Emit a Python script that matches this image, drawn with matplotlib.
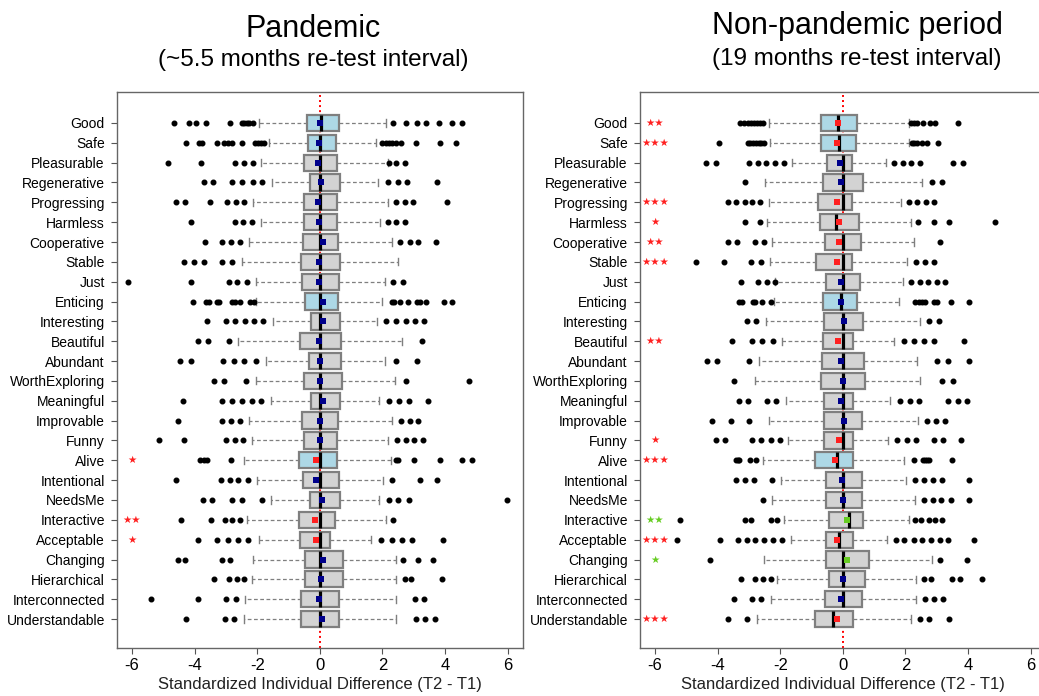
import numpy as np
import matplotlib
matplotlib.use("Agg")
import matplotlib.pyplot as plt

plt.rcParams['font.family'] = ['Liberation Sans', 'DejaVu Sans']

labels = ["Good", "Safe", "Pleasurable", "Regenerative", "Progressing", "Harmless",
          "Cooperative", "Stable", "Just", "Enticing", "Interesting", "Beautiful",
          "Abundant", "WorthExploring", "Meaningful", "Improvable", "Funny", "Alive",
          "Intentional", "NeedsMe", "Interactive", "Acceptable", "Changing",
          "Hierarchical", "Interconnected", "Understandable"]

# boxes filled light blue
highlight = ["Good", "Safe", "Enticing", "Alive"]

# ---- Pandemic (~5.5 months) ----
pan_q1 = [-0.41, -0.39, -0.52, -0.30, -0.52, -0.52, -0.55, -0.61, -0.57, -0.48, -0.28, -0.64, -0.34,
          -0.50, -0.29, -0.57, -0.52, -0.68, -0.55, -0.30, -0.68, -0.64, -0.47, -0.47, -0.59, -0.61]
pan_med = [0.03, 0, 0, 0, 0, 0, 0, 0, 0, 0, 0, 0, 0,
           0, 0, 0, 0, 0, 0, 0, 0, 0, 0, 0, 0, 0]
pan_q3 = [0.60, 0.51, 0.56, 0.64, 0.56, 0.56, 0.57, 0.64, 0.60, 0.57, 0.63, 0.67, 0.69,
          0.70, 0.63, 0.59, 0.56, 0.54, 0.60, 0.64, 0.48, 0.34, 0.74, 0.74, 0.62, 0.62]
pan_wlo = [-1.94, -1.62, -1.88, -1.54, -2.15, -1.88, -2.26, -2.47, -2.03, -2.03, -1.50, -2.60, -1.71,
           -2.03, -1.56, -2.27, -2.17, -2.43, -2.00, -1.56, -2.32, -1.95, -2.15, -2.18, -2.39, -2.43]
pan_whi = [2.11, 1.81, 2.19, 1.87, 2.19, 1.93, 2.30, 2.50, 2.09, 2.00, 1.82, 2.62, 2.09,
           2.40, 1.90, 2.30, 2.19, 2.27, 2.02, 1.89, 2.11, 1.64, 2.43, 2.44, 2.43, 2.45]
pan_mean = [0.01, -0.02, -0.05, 0.04, -0.05, -0.04, 0.10, -0.03, -0.04, 0.09, 0.09, -0.01, 0.0,
            0.02, 0.10, 0.0, 0.0, -0.11, -0.11, 0.06, -0.16, -0.12, 0.09, 0.05, -0.02, 0.06]
pan_out = [
    [-4.67, -4.19, -3.94, -3.64, -2.86, -2.49, -2.41, -2.34, -2.26, -2.15, 2.35, 2.77, 3.12, 3.38, 3.81, 4.23, 4.53],
    [-4.26, -3.87, -3.77, -3.30, -3.05, -2.93, -2.79, -2.47, -2.07, -1.99, -1.88, -1.78, 2.0, 2.11, 2.21, 2.32, 2.43, 2.59, 3.06, 3.83, 4.36],
    [-4.86, -3.79, -2.70, -2.41, -2.15, 2.21, 2.45, 2.71],
    [-3.71, -3.40, -2.79, -2.47, -2.15, -1.85, 2.19, 2.50, 2.80, 3.74],
    [-4.60, -4.32, -3.51, -2.98, -2.68, -2.41, 2.45, 2.71, 2.99, 4.07],
    [-4.11, -2.72, -2.45, -2.17, 2.19, 2.45, 2.72],
    [-3.68, -3.11, -2.83, -2.54, 2.57, 2.87, 3.15, 3.72],
    [-4.33, -4.03, -3.71, -3.11, -2.79],
    [-6.14, -4.10, -2.91, -2.63, -2.34, 2.35, 2.66],
    [-4.04, -3.64, -3.53, -3.30, -3.23, -2.79, -2.70, -2.55, -2.23, -2.10, 2.30, 2.37, 2.55, 2.83, 3.12, 3.19, 3.40, 3.96, 4.23],
    [-3.61, -3.01, -2.70, -2.40, -2.10, -1.80, 2.12, 2.45, 2.74, 3.03, 3.33],
    [-3.89, -3.56, -2.91, 3.27],
    [-4.47, -4.13, -3.10, -2.73, -2.41, -2.05, 2.43, 3.12],
    [-3.37, -3.05, -2.36, 2.74, 4.76],
    [-4.38, -3.14, -2.81, -2.49, -2.17, -1.87, 2.21, 2.53, 2.85, 3.47],
    [-4.54, -3.12, -2.83, -2.54, 2.59, 2.87, 3.15],
    [-5.15, -4.33, -2.99, -2.70, -2.44, 2.47, 2.77, 3.02, 3.30],
    [-3.83, -3.71, -3.61, -2.84, 2.45, 2.51, 3.00, 3.83, 4.53, 4.87],
    [-4.60, -3.16, -2.87, -2.60, -2.30, 2.31, 3.19, 3.76],
    [-3.74, -3.45, -2.81, -2.50, -1.86, 2.21, 2.51, 2.84, 5.99],
    [-4.44, -3.48, -3.02, -2.79, -2.54, 2.35],
    [-3.90, -3.27, -2.94, -2.62, -2.28, 1.97, 2.31, 2.64, 2.96, 3.95],
    [-4.54, -4.30, -3.11, -2.87, 2.66, 3.13, 3.61],
    [-3.37, -2.89, -2.65, -2.41, 2.71, 2.93, 3.89],
    [-5.39, -3.88, -2.99, -2.68, 3.03, 3.33],
    [-4.26, -3.03, -2.73, 3.06, 3.36, 3.68],
]
pan_sig = {"Alive": "*", "Interactive": "**", "Acceptable": "*"}

# ---- Non-pandemic period (19 months) ----
non_q1 = [-0.70, -0.70, -0.52, -0.62, -0.78, -0.72, -0.56, -0.87, -0.53, -0.64, -0.59, -0.64, -0.66,
          -0.70, -0.60, -0.59, -0.59, -0.88, -0.55, -0.55, -0.43, -0.55, -0.55, -0.45, -0.57, -0.90]
non_med = [-0.14, -0.11, 0.01, 0, 0, -0.23, 0, 0, 0, -0.06, 0, 0, 0,
           0, 0, 0, 0, -0.19, 0, 0, 0.21, -0.13, 0, 0, 0, -0.30]
non_q3 = [0.45, 0.43, 0.29, 0.66, 0.29, 0.51, 0.57, 0.30, 0.55, 0.45, 0.63, 0.34, 0.69,
          0.71, 0.32, 0.61, 0.31, 0.34, 0.60, 0.60, 0.66, 0.31, 0.85, 0.72, 0.60, 0.32]
non_wlo = [-2.37, -2.32, -1.62, -2.50, -2.37, -2.43, -2.26, -2.34, -2.16, -2.21, -2.45, -1.93, -2.67,
           -2.80, -1.82, -2.37, -1.74, -2.55, -1.98, -2.27, -1.88, -1.65, -2.53, -2.10, -2.31, -2.73]
non_whi = [2.13, 2.10, 1.38, 2.53, 1.86, 2.18, 2.26, 2.04, 1.91, 1.81, 2.48, 1.64, 2.36,
           2.47, 1.52, 2.41, 1.46, 1.94, 2.02, 2.31, 2.13, 1.40, 2.85, 2.34, 2.34, 2.17]
non_mean = [-0.15, -0.17, -0.09, -0.05, -0.20, -0.13, -0.13, -0.19, -0.06, -0.07, 0.04, -0.16, -0.05,
            0.01, -0.05, 0.04, -0.13, -0.24, -0.01, 0.02, 0.13, -0.19, 0.14, 0.02, -0.05, -0.19]
non_out = [
    [-3.30, -3.17, -3.04, -2.94, -2.83, -2.74, -2.64, -2.55, 2.17, 2.26, 2.36, 2.55, 2.79, 2.95, 3.69],
    [-3.94, -3.04, -2.96, -2.87, -2.78, -2.69, -2.61, -2.51, 2.20, 2.28, 2.38, 2.52, 2.70, 3.05],
    [-4.36, -4.06, -2.99, -2.71, -2.45, -2.17, -1.89, 1.65, 1.91, 2.19, 2.47, 3.53, 3.83],
    [-3.14, 2.84, 3.16],
    [-3.68, -3.40, -3.14, -2.89, -2.64, 2.13, 2.38, 2.65, 2.91],
    [-3.14, -2.64, 2.41, 2.91, 3.40, 4.85],
    [-3.67, -3.38, -2.80, -2.53, 3.11],
    [-4.68, -3.81, -2.93, -2.62, 2.34, 2.64, 2.93],
    [-3.26, -2.70, -2.43, -2.18, 2.18, 2.47, 2.73, 3.00, 3.27],
    [-3.31, -3.22, -2.87, -2.79, -2.57, -2.30, 2.31, 2.43, 2.52, 2.64, 2.91, 3.00, 3.45, 4.03],
    [-3.06, -2.77, 2.77, 3.07],
    [-3.53, -2.90, -2.57, -2.24, 1.95, 2.28, 2.60, 2.90, 3.88],
    [-4.33, -4.01, -3.01, 3.02, 3.36, 4.03],
    [-3.49, 3.16, 3.51],
    [-3.33, -3.02, -2.41, -2.13, 1.83, 2.15, 2.45, 3.37, 3.67, 3.98],
    [-4.17, -3.57, -2.99, 2.70, 2.99, 3.28],
    [-4.06, -3.76, -2.90, -2.61, -2.31, -2.02, 1.74, 2.04, 2.33, 2.90, 3.21, 3.78],
    [-3.40, -3.36, -3.31, -2.98, -2.77, 2.26, 2.55, 2.63, 2.70, 2.77, 3.50],
    [-3.40, -3.12, -2.84, -2.27, 2.31, 2.60, 2.87, 3.16, 4.02],
    [-2.55, 2.60, 2.87, 3.15, 3.45, 4.02],
    [-5.21, -3.12, -2.93, -2.28, -2.09, 2.32, 2.49, 2.74, 2.96, 3.16],
    [-5.30, -3.91, -3.36, -3.06, -2.79, -2.51, -2.23, -1.94, 1.69, 1.97, 2.26, 2.54, 2.82, 3.11, 3.37, 4.19],
    [-4.23, 3.12, 3.97],
    [-3.24, -2.79, -2.55, -2.31, 2.59, 2.81, 3.50, 3.74, 4.44],
    [-3.48, -2.90, -2.62, 2.63, 2.93, 3.21],
    [-3.67, -3.05, 2.47, 2.77, 3.38],
]
non_sig = {"Good": "**", "Safe": "***", "Progressing": "***", "Harmless": "*",
           "Cooperative": "**", "Stable": "***", "Beautiful": "**", "Funny": "*",
           "Alive": "***", "Interactive": "**", "Acceptable": "***", "Changing": "*",
           "Understandable": "***"}

BLUE = "#ADD8E6"
GREY = "#D3D3D3"
EDGE = "#7f7f7f"
RED = "#FF2020"
GREEN = "#66CC22"
NAVY = "#00008B"

W, H = 1039, 696
fig = plt.figure(figsize=(W / 100, H / 100), dpi=100)


def panel(rect, q1, med, q3, wlo, whi, mean, out, sig):
    ax = fig.add_axes(rect)
    n = len(labels)
    pos = np.arange(n, 0, -1)
    stats = []
    for i in range(n):
        stats.append(dict(med=med[i], q1=q1[i], q3=q3[i], whislo=wlo[i],
                          whishi=whi[i], fliers=out[i], mean=mean[i]))
    ax.axvline(0, color="red", ls=(0, (1, 1.6)), lw=1.4, zorder=0)
    bp = ax.bxp(stats, positions=pos, widths=0.82, capwidths=0.36,
                orientation="horizontal", patch_artist=True, showmeans=True,
                boxprops=dict(edgecolor=EDGE, lw=1.6),
                medianprops=dict(color="black", lw=2.3, solid_capstyle="butt"),
                whiskerprops=dict(color=EDGE, lw=0.9, ls=(0, (3, 2))),
                capprops=dict(color=EDGE, lw=1.0),
                flierprops=dict(marker="o", markerfacecolor="black",
                                markeredgecolor="black", markersize=3.3),
                meanprops=dict(marker="s", markersize=4.5, markeredgewidth=0))
    for i, patch in enumerate(bp["boxes"]):
        patch.set_facecolor(BLUE if labels[i] in highlight else GREY)
    for i, m in enumerate(bp["means"]):
        c = NAVY
        if labels[i] in sig:
            c = RED if mean[i] < 0 else GREEN
            ax.text(-6, pos[i], "\u2605" * len(sig[labels[i]]), color=c,
                    family="DejaVu Sans", fontsize=7.5, ha="center", va="center")
        m.set_markerfacecolor(c)
        m.set_zorder(5)
    ax.set_xlim(-6.48, 6.48)
    ax.set_ylim(-0.46, 27.56)
    ax.set_xticks([-6, -4, -2, 0, 2, 4, 6])
    ax.set_xticklabels(["-6", "-4", "-2", "0", "2", "4", "6"])
    ax.set_yticks(pos)
    ax.set_yticklabels(labels)
    ax.tick_params(axis="x", labelsize=12, length=4.3, pad=3, color="#555555")
    ax.tick_params(axis="y", labelsize=10, length=4.3, pad=4.5, color="#555555")
    for s in ax.spines.values():
        s.set_color("#666666")
        s.set_linewidth(1.0)
    ax.set_xlabel("Standardized Individual Difference (T2 - T1)", fontsize=12,
                  color="#222222", labelpad=3)
    return ax


ax1 = panel([117 / W, 1 - 648 / H, 405.6 / W, 556 / H],
            pan_q1, pan_med, pan_q3, pan_wlo, pan_whi, pan_mean, pan_out, pan_sig)
ax2 = panel([640 / W, 1 - 648 / H, 405.6 / W, 556 / H],
            non_q1, non_med, non_q3, non_wlo, non_whi, non_mean, non_out, non_sig)

fig.text(313 / W, 1 - 37 / H, "Pandemic", fontsize=22, ha="center", va="baseline")
fig.text(313 / W, 1 - 66 / H, "(~5.5 months re-test interval)", fontsize=17.5,
         ha="center", va="baseline")
fig.text(857 / W, 1 - 34 / H, "Non-pandemic period", fontsize=22, ha="center", va="baseline")
fig.text(857 / W, 1 - 65 / H, "(19 months re-test interval)", fontsize=17.5,
         ha="center", va="baseline")

fig.savefig("out.png", dpi=100)
